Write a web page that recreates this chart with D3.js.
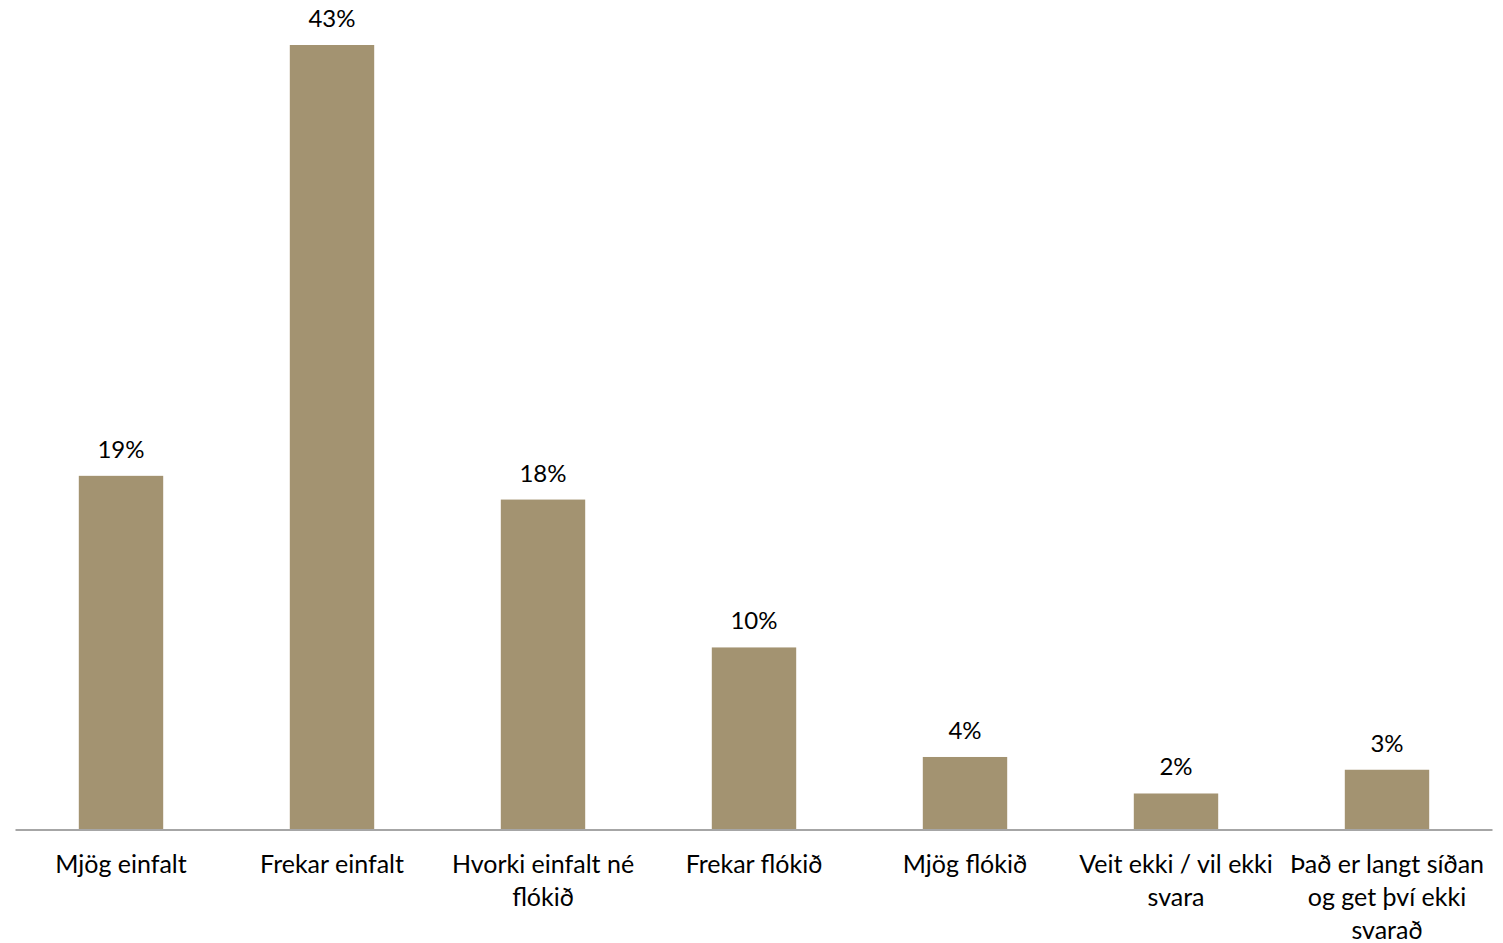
<!DOCTYPE html>
<html><head><meta charset="utf-8">
<script src="https://cdn.jsdelivr.net/npm/d3@7"></script>
<style>body{margin:0;background:#fff}svg{display:block}</style>
</head><body>
<svg id="c" width="1503" height="943"></svg>
<script>
const categories = ["Mjög einfalt","Frekar einfalt","Hvorki einfalt né flókið","Frekar flókið","Mjög flókið","Veit ekki / vil ekki svara","Það er langt síðan og get því ekki svarað"];
const values = [19.4, 43, 18.1, 10, 4, 2, 3.3];
const valueLabels = ["19%","43%","18%","10%","4%","2%","3%"];

const W = 1503, H = 943;
const m = {left: 15.5, right: 10.5, top: 45, bottom: 113};
const svg = d3.select("#c");
const font = "Lato, 'Open Sans', sans-serif";
const x = d3.scaleBand().domain(categories).range([m.left, W - m.right]).paddingInner(0.6).paddingOuter(0.3);
const y = d3.scaleLinear().domain([0, 43]).range([H - m.bottom, m.top]);

svg.append("g").selectAll("rect").data(values).join("rect")
  .attr("x", (d,i) => x(categories[i]))
  .attr("width", x.bandwidth())
  .attr("y", d => y(d))
  .attr("height", d => y(0) - y(d))
  .attr("fill", "#A39371");

svg.append("g").selectAll("text").data(values).join("text")
  .attr("x", (d,i) => x(categories[i]) + x.bandwidth()/2)
  .attr("y", d => y(d) - 18)
  .attr("text-anchor", "middle")
  .attr("font-family", font).attr("font-size", 24).attr("fill", "#000")
  .text((d,i) => valueLabels[i]);

const axis = svg.append("g").attr("transform", `translate(0,${y(0)})`)
  .call(d3.axisBottom(x).tickSize(0).tickPadding(0));
axis.select(".domain").attr("stroke", "#a6a6a6").attr("stroke-width", 2).attr("d", `M${m.left},0H${W - m.right}`);
axis.selectAll(".tick text").attr("font-family", font).attr("font-size", 25).attr("fill", "#000").attr("dy", 0).attr("y", 0)
  .each(function(t){
    const el = d3.select(this); el.text(null);
    const words = t.split(" "); let lines = []; let line = [];
    const maxW = 208;
    const tmp = el.append("tspan");
    words.forEach(w => {
      const trial = line.concat([w]).join(" ");
      tmp.text(trial);
      if (tmp.node().getComputedTextLength() > maxW && line.length) { lines.push(line.join(" ")); line = [w]; }
      else line.push(w);
    });
    lines.push(line.join(" "));
    tmp.remove();
    lines.forEach((l,i) => el.append("tspan").attr("x", 0).attr("y", 43 + i*33).text(l));
  });
</script>
</body></html>
